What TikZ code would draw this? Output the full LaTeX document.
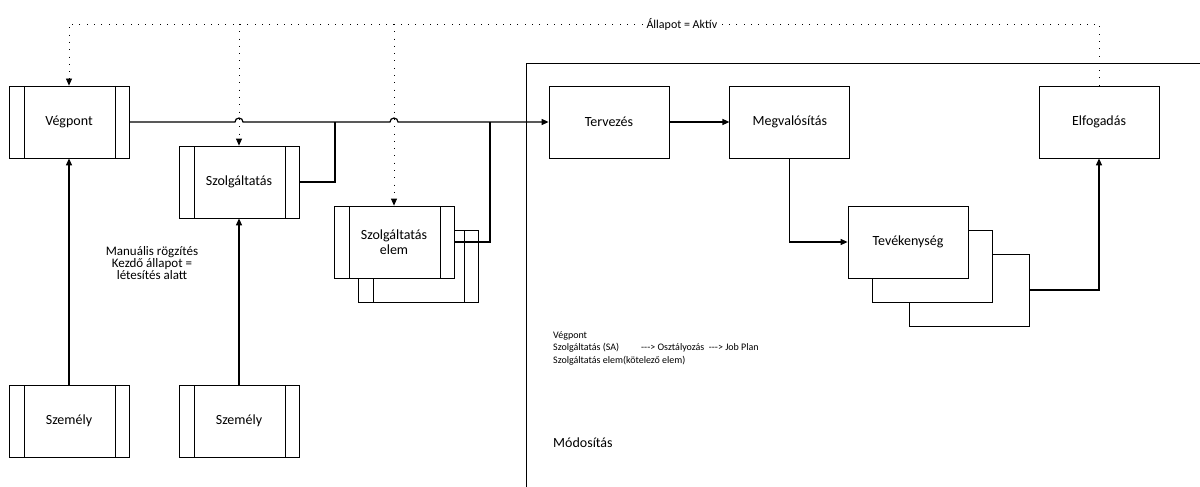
\documentclass[tikz,border=0pt]{standalone}
\usepackage{fontspec}
\setmainfont{Carlito}
\usetikzlibrary{arrows.meta,positioning,calc}

\begin{document}
\begin{tikzpicture}[x=1pt, y=-1pt,
    every node/.style={font=\fontsize{14}{15}\selectfont},
    box/.style={draw, line width=0.8pt, fill=white, minimum width=120pt,
      minimum height=72pt, inner sep=2pt},
    ppbox/.style={box, path picture={
      \draw[line width=0.8pt] ([xshift=15pt]path picture bounding box.north west)
        -- ([xshift=15pt]path picture bounding box.south west);
      \draw[line width=0.8pt] ([xshift=-14pt]path picture bounding box.north east)
        -- ([xshift=-14pt]path picture bounding box.south east);}},
    flow/.style={line width=1.2pt, -{Triangle[length=7pt,width=6pt]}},
    link/.style={line width=1.2pt},
    state/.style={line width=0.8pt, dash pattern=on 0.8pt off 6.5pt,
      -{Triangle[length=7pt,width=6pt]}}]
  \useasboundingbox (0,0) rectangle (1200,487);
  \coordinate (top) at (0,24);

  \node[ppbox] (vegpont) at (69,122) {Végpont};
  \node[ppbox] (szolg) at (239,182) {Szolgáltatás};
  \node[ppbox] (szem1) at (69,421) {Személy};
  \node[ppbox] (szem2) at (239,421) {Személy};
  \node[ppbox] (elemb) at (418,266) {};
  \node[ppbox, align=center] (elem) at (394,242) {Szolgáltatás\\elem};

  \node[box] (tervezes) at (609,122) {Tervezés};
  \node[box, right=60pt of tervezes] (megval) {Megvalósítás};
  \node[box] (elfog) at (1099,122) {Elfogadás};
  \node[box] (tevc) at (969,290) {};
  \node[box] (tevb) at (932,266) {};
  \node[box] (tev) at (908,242) {Tevékenység};

  \coordinate (j1) at (335,122);
  \coordinate (j2) at (490,122);

  \draw[flow] (vegpont.east) -- ([xshift=-4pt]vegpont.east -| szolg.north)
    arc[start angle=180, end angle=0, radius=4pt]
    -- ([xshift=-4pt]vegpont.east -| elem.north)
    arc[start angle=180, end angle=0, radius=4pt] -- (tervezes.west);
  \draw[link] (szolg.east) -| (j1);
  \draw[link] (elem.east) -| (j2);

  \draw[state] (elfog.north) -- (elfog.north |- top)
    -- node[pos=0.405, fill=white, inner sep=1pt,
            font=\fontsize{12}{13}\selectfont] (allapot) {Állapot = Aktív}
    (vegpont.north |- top) -- (vegpont.north);
  \draw[state] (szolg.north |- top) -- (szolg.north);
  \draw[state] (elem.north |- top) -- (elem.north);

  \draw[flow] (szem1.north) -- (vegpont.south);
  \draw[flow] (szem2.north) -- (szolg.south);
  \draw[flow] (tervezes) -- (megval);
  \draw[flow] (megval.south) |- (tev.west);
  \draw[flow] (tevc.east) -| (elfog.south);

  \draw[line width=0.8pt] (526,487) -- (526,63) -- (1200,63);

  \node[align=center, font=\fontsize{13}{12}\selectfont] (manual) at (152,263)
    {Manuális rögzítés\\Kezdő állapot =\\létesítés alatt};
  \node[anchor=north west, align=left, inner sep=0pt,
        font=\fontsize{10}{12.5}\selectfont] (lista) at (553,331)
    {Végpont\\Szolgáltatás (SA)\hspace{2.2em}-{}-{}-> Osztályozás \ -{}-{}-> Job Plan\\Szolgáltatás elem(kötelező elem)};
  \node[anchor=west, inner sep=0pt, font=\fontsize{14}{16}\selectfont]
    (modositas) at (553,443) {Módosítás};
\end{tikzpicture}
\end{document}
